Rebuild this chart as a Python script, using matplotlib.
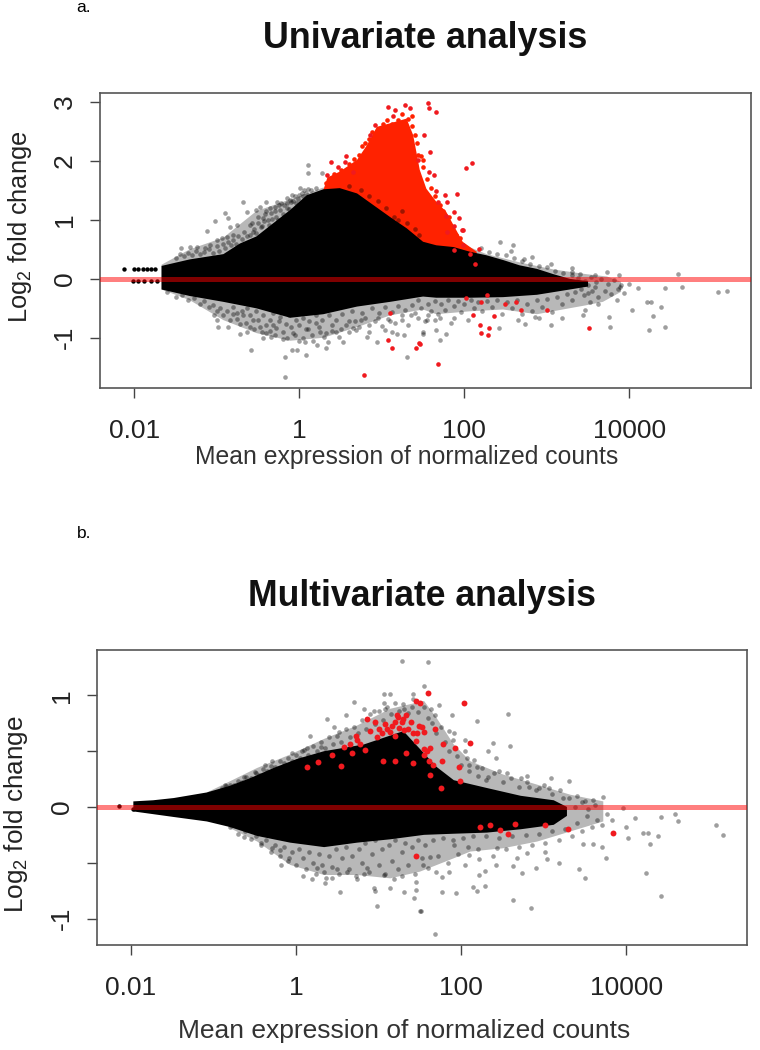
import numpy as np
import matplotlib
matplotlib.use('Agg')
import matplotlib.pyplot as plt
from matplotlib.ticker import FixedLocator, FixedFormatter, NullLocator

plt.rcParams['font.family'] = ['Liberation Sans', 'DejaVu Sans']
plt.rcParams['mathtext.default'] = 'regular'

# all means are log10 of the mean expression

# panel a, edges of the solid black mass
a_top_m = [-1.67, -1.33, -0.92, -0.72, -0.52, -0.32, -0.11, 0.09, 0.29, 0.49, 0.70, 0.90, 1.10, 1.30, 1.50, 1.66, 1.87, 2.07, 2.27, 2.47, 2.67, 2.88, 3.08, 3.28, 3.5]
a_top_v = [0.22, 0.33, 0.42, 0.6, 0.72, 0.94, 1.17, 1.42, 1.52, 1.54, 1.45, 1.25, 1.05, 0.86, 0.63, 0.57, 0.54, 0.46, 0.4, 0.32, 0.23, 0.17, 0.08, 0.0, -0.04]
a_low_m = [-1.67, -1.33, -0.92, -0.52, -0.11, 0.29, 0.70, 1.10, 1.50, 1.66, 2.07, 2.47, 2.88, 3.28, 3.5]
a_low_v = [-0.18, -0.29, -0.39, -0.5, -0.66, -0.6, -0.47, -0.39, -0.3, -0.32, -0.32, -0.31, -0.27, -0.18, -0.13]

# panel a, outer edge of the thin cloud
a_fuzz_top_m = [-1.67, -1.33, -0.92, -0.52, -0.11, 0.29, 2.27, 2.67, 3.08, 3.48, 3.73, 3.9]
a_fuzz_top_v = [0.24, 0.5, 0.7, 1.15, 1.35, 1.55, 0.42, 0.28, 0.16, 0.08, 0.04, -0.05]
a_fuzz_low_m = [3.9, 3.68, 3.47, 3.27, 2.88, 2.47, 2.07, 1.66, 1.5, 1.1, 0.7, 0.29, -0.11, -0.52, -0.92, -1.33, -1.67]
a_fuzz_low_v = [-0.22, -0.39, -0.45, -0.5, -0.6, -0.52, -0.55, -0.6, -0.52, -0.62, -0.82, -1.0, -1.05, -0.92, -0.7, -0.36, -0.18]

# panel a, red cloud outline
a_red_m = [0.29, 0.34, 0.49, 0.70, 0.82, 0.94, 1.10, 1.30, 1.38, 1.46, 1.54, 1.66, 1.78, 1.87, 1.98, 2.15, 2.15, 1.66, 1.30, 0.70, 0.29]
a_red_v = [1.5, 1.72, 1.82, 2.02, 2.27, 2.58, 2.64, 2.72, 2.44, 1.85, 1.53, 1.31, 1.14, 0.91, 0.63, 0.46, 0.3, 0.4, 0.7, 1.3, 1.4]

a_grey = np.array([
    (0.11, 1.93), (0.11, 1.79), (0.28, 1.79), (0.01, 1.54), (-0.09, 1.42), (-0.15, 1.37), (-0.68, 1.31), (-0.64, 1.14),
    (-0.90, 1.11), (-0.86, 1.03), (-1.02, 0.98), (-1.12, 0.81), (-0.84, 0.88), (-0.76, 0.91), (-0.40, 1.31), (-0.27, 1.31),
    (-0.52, 1.17), (-0.48, 1.22), (-0.60, 0.91), (-0.56, 0.80), (-0.44, 1.03), (-0.34, 1.11), (-0.23, 1.17), (-0.11, 1.34),
    (-0.94, 0.69), (-0.88, 0.71), (-0.80, 0.74), (-1.00, 0.66), (-1.08, 0.57), (-1.14, 0.52), (-1.33, 0.54), (-1.43, 0.53),
    (-1.24, 0.54), (-0.6, 0.75), (-0.55, 0.85), (-0.5, 0.95), (-0.45, 0.9), (-0.42, 1.1), (-0.38, 1.0), (-0.35, 1.2),
    (-0.3, 1.15), (-0.28, 1.05), (-0.25, 1.25), (-0.2, 1.1), (-0.18, 1.25), (-0.15, 1.2), (-0.1, 1.3), (-0.05, 1.4),
    (-0.02, 1.35), (0.03, 1.45), (0.06, 1.5), (0.1, 1.52),
    (-1.00, -0.70), (-1.04, -0.62), (-0.86, -0.82), (-0.98, -0.82), (-0.72, -0.93), (-0.64, -0.90), (-0.59, -1.20), (-0.44, -1.01),
    (-0.34, -0.99), (-0.32, -0.79), (-0.17, -1.33), (-0.17, -1.67), (-0.09, -1.21), (-0.03, -1.21), (0.08, -1.30), (0.07, -1.07),
    (0.21, -1.13), (0.32, -1.18), (0.35, -1.07), (0.53, -1.07), (0.45, -0.90), (0.65, -0.84), (0.69, -0.87), (0.94, -1.07),
    (0.82, -0.99), (1.18, -0.93), (1.30, -1.33), (1.50, -0.93), (1.27, -0.96), (1.04, -0.87), (1.12, -0.90), (1.44, -0.67),
    (1.56, -0.62), (-0.8, -0.6), (-0.75, -0.68), (-0.7, -0.55), (-0.65, -0.75), (-0.6, -0.62), (-0.55, -0.85), (-0.5, -0.7),
    (-0.45, -0.9), (-0.4, -0.78), (-0.35, -0.88), (-0.3, -0.95), (-0.25, -0.72), (-0.2, -0.9), (-0.15, -1.0), (-0.1, -0.82),
    (-0.05, -0.95), (0.0, -0.78), (0.05, -1.0), (0.1, -0.85), (0.15, -0.95), (0.2, -0.75), (0.25, -0.9), (0.3, -0.98),
    (0.4, -0.78), (0.5, -0.85), (0.6, -0.72), (0.75, -0.7), (0.85, -0.78), (0.95, -0.66), (1.1, -0.72), (1.25, -0.7),
    (1.35, -0.62), (1.65, -0.7),
    (4.59, 0.09), (4.64, -0.14), (5.08, -0.22), (5.18, -0.20), (4.43, -0.15), (4.11, -0.16), (4.21, -0.39), (4.26, -0.39),
    (4.39, -0.48), (4.29, -0.63), (4.43, -0.82), (4.24, -0.87), (4.03, -0.52), (3.75, -0.65), (3.76, -0.82), (3.44, -0.62),
    (3.46, -0.52), (3.18, -0.67), (3.05, -0.79), (2.90, -0.67), (2.86, -0.65), (2.65, -0.70), (2.74, -0.77), (2.42, -0.84),
    (1.78, -0.93), (1.71, -1.04), (1.66, -0.87), (1.50, -0.90), (1.71, -0.67), (1.87, -0.67), (1.55, -0.70),
    (2.43, 0.62), (2.59, 0.58), (2.56, 0.48), (2.82, 0.37), (2.72, 0.33), (3.05, 0.26), (3.31, 0.19), (3.73, 0.12),
    (3.87, 0.06), (3.58, 0.06), (4.0, -0.08), (3.89, -0.14), (3.85, -0.36), (3.62, -0.42), (3.52, -0.39),
    # denser part of the cloud next to the mass
    (-1.5, 0.36), (-1.45, 0.42), (-1.4, 0.38), (-1.35, 0.44), (-1.3, 0.4), (-1.25, 0.47), (-1.2, 0.42), (-1.15, 0.46),
    (-1.1, 0.5), (-1.05, 0.44), (-1.0, 0.55), (-0.97, 0.48), (-0.93, 0.6), (-0.9, 0.52), (-0.87, 0.63), (-0.83, 0.58),
    (-0.8, 0.66), (-0.77, 0.6), (-0.74, 0.72), (-0.7, 0.68), (-0.67, 0.8), (-0.63, 0.72), (-0.57, 0.95), (-0.53, 0.78),
    (-0.5, 1.05), (-0.47, 0.88), (-0.43, 0.98), (-0.4, 1.15), (-0.37, 0.92), (-0.33, 1.02), (-0.29, 1.22), (-0.26, 1.0),
    (-0.22, 1.28), (-0.19, 1.05), (-0.15, 1.28), (-0.12, 1.18), (-0.08, 1.32), (-0.04, 1.28), (0.0, 1.42), (0.04, 1.4),
    (0.08, 1.46), (0.14, 1.5), (0.2, 1.55),
    (-1.6, -0.22), (-1.5, -0.3), (-1.42, -0.28), (-1.35, -0.36), (-1.28, -0.33), (-1.2, -0.42), (-1.15, -0.38), (-1.1, -0.48),
    (-1.05, -0.44), (-1.0, -0.55), (-0.96, -0.5), (-0.92, -0.62), (-0.88, -0.55), (-0.84, -0.7), (-0.8, -0.48), (-0.76, -0.58),
    (-0.72, -0.76), (-0.68, -0.62), (-0.64, -0.5), (-0.6, -0.82), (-0.56, -0.7), (-0.52, -0.55), (-0.48, -0.82), (-0.44, -0.62),
    (-0.4, -0.92), (-0.36, -0.7), (-0.32, -0.58), (-0.28, -0.84), (-0.24, -0.65), (-0.2, -1.02), (-0.16, -0.76), (-0.12, -0.62),
    (-0.08, -0.92), (-0.04, -0.7), (0.0, -1.05), (0.04, -0.66), (0.08, -0.85), (0.12, -0.72), (0.16, -1.05), (0.2, -0.62),
    (0.24, -0.82), (0.28, -0.7), (0.32, -0.92), (0.36, -0.62), (0.4, -0.88), (0.44, -0.7), (0.48, -0.98), (0.52, -0.6),
    (0.56, -0.78), (0.6, -0.9), (0.64, -0.55), (0.68, -0.72), (0.72, -0.82), (0.76, -0.58), (0.8, -0.66), (0.84, -0.9),
    (0.88, -0.5), (0.92, -0.72), (0.96, -0.58), (1.0, -0.8), (1.04, -0.48), (1.08, -0.68), (1.12, -0.56), (1.16, -0.75),
    (1.2, -0.46), (1.24, -0.62), (1.28, -0.52), (1.32, -0.78), (1.36, -0.44), (1.4, -0.58), (1.44, -0.36), (1.48, -0.5),
    (1.52, -0.72), (1.56, -0.42), (1.6, -0.55), (1.64, -0.38), (1.68, -0.6), (1.72, -0.42), (1.76, -0.52), (1.8, -0.36),
    (1.84, -0.75), (1.88, -0.46), (1.92, -0.38), (1.96, -0.56), (2.0, -0.42), (2.04, -0.7), (2.08, -0.36), (2.12, -0.5),
    (2.16, -0.4), (2.22, -0.55), (2.28, -0.38), (2.34, -0.48), (2.4, -0.36), (2.46, -0.6), (2.52, -0.4), (2.58, -0.5),
    (2.64, -0.36), (2.7, -0.6), (2.76, -0.42), (2.82, -0.55), (2.88, -0.36), (2.94, -0.48), (3.0, -0.34), (3.06, -0.56),
    (3.12, -0.3), (3.18, -0.42), (3.24, -0.26), (3.3, -0.36),
    (3.3, 0.06), (3.34, -0.22), (3.38, 0.02), (3.42, -0.18), (3.46, -0.04), (3.5, -0.24), (3.54, 0.04), (3.58, -0.14),
    (3.62, -0.3), (3.66, 0.0), (3.7, -0.2), (3.74, -0.08), (3.78, -0.26), (3.82, -0.02), (3.86, -0.18), (3.9, -0.1),
    (3.94, -0.24), (3.3, 0.12), (3.35, -0.1), (3.4, 0.08), (3.45, -0.28), (3.5, -0.1), (3.55, -0.2), (3.6, -0.06),
    (3.2, 0.1), (3.1, 0.14), (3.0, 0.2), (2.9, 0.22), (2.8, 0.26), (2.7, 0.3), (2.6, 0.36), (2.5, 0.4), (2.4, 0.42),
    (2.3, 0.46), (2.2, 0.52),
    # dark specks along the bottom of the red cloud
    (0.6, 1.58), (0.75, 1.5), (0.85, 1.4), (0.95, 1.32), (1.05, 1.2), (1.15, 1.05), (1.2, 1.0), (1.25, 1.15), (1.3, 0.95),
    (1.4, 0.85), (1.45, 0.75),
])

a_red = np.array([
    (1.07, 2.92), (1.28, 2.95), (1.34, 2.9), (1.16, 2.87), (1.14, 2.77), (0.92, 2.61), (0.86, 2.44), (0.57, 2.09),
    (0.39, 1.98), (0.47, 1.9), (0.55, 1.99), (0.34, 1.77), (0.65, 1.82), (1.44, 2.02),
    (1.56, 2.98), (1.57, 2.90), (1.66, 2.83), (1.51, 2.45), (1.58, 2.16), (2.09, 1.96), (2.02, 1.89), (1.57, 1.81),
    (1.63, 1.77), (1.91, 1.44), (1.77, 1.42), (1.66, 1.49), (1.79, 1.30), (1.68, 1.30), (1.87, 1.14), (1.78, 1.07),
    (1.94, 1.04), (1.97, 0.83), (1.99, 0.83), (1.87, 0.90), (1.79, 0.80), (2.18, 0.50), (2.07, 0.43), (2.13, 0.26),
    (1.98, 0.58), (1.87, 0.49),
    (2.02, -0.33), (2.20, -0.39), (2.27, -0.28), (2.49, -0.43), (2.63, -0.40), (2.69, -0.52), (3.0, -0.52), (2.10, -0.62),
    (2.36, -0.63), (2.19, -0.79), (2.30, -0.84), (2.20, -0.92), (2.29, -0.96), (3.51, -0.83), (1.68, -1.45), (1.46, -1.10),
    (1.10, -0.58), (1.08, -1.04), (1.12, -1.17), (1.42, -1.17), (1.45, -1.08), (0.78, -1.63),
])

# panel a, bright points that fray the edge of the red cloud
a_red_edge = np.array([
    (0.32, 1.62), (0.38, 1.7), (0.42, 1.78), (0.5, 1.85), (0.55, 1.78), (0.6, 1.95), (0.66, 2.03), (0.72, 2.1), (0.76, 2.25),
    (0.8, 2.3), (0.84, 2.38), (0.88, 2.5), (0.97, 2.55), (1.02, 2.62), (1.06, 2.7), (1.12, 2.62), (1.2, 2.7), (1.25, 2.8),
    (1.32, 2.72), (1.37, 2.6), (1.4, 2.45), (1.43, 2.3), (1.44, 2.1), (1.5, 1.9), (1.55, 1.7), (1.6, 1.55), (1.64, 1.4),
    (1.7, 1.25), (1.74, 1.15), (1.82, 1.05), (1.85, 0.85), (1.9, 0.75), (1.95, 0.7), (2.0, 0.55), (2.04, 0.5), (1.72, 1.0),
    (1.6, 1.1), (1.5, 2.02), (1.47, 2.08), (1.36, 2.76),
])

# panel a, the few low count genes left of the mass
a_low_counts = np.array([(-2.13, 0.17), (-2.0, 0.17), (-1.95, 0.17), (-1.9, 0.17), (-1.85, 0.17), (-1.8, 0.17), (-1.75, 0.17),
                         (-2.02, -0.04), (-1.95, -0.04), (-1.88, -0.04), (-1.8, -0.04), (-1.72, -0.04)])

# panel b, edges of the solid black mass
b_top_m = [-1.97, -1.73, -1.48, -1.08, -0.8, -0.55, -0.27, 0.01, 0.34, 0.58, 0.82, 1.14, 1.3, 1.5, 1.7, 1.91, 2.31, 2.72, 3.12, 3.28]
b_top_v = [0.05, 0.06, 0.08, 0.13, 0.19, 0.26, 0.35, 0.43, 0.5, 0.53, 0.56, 0.64, 0.68, 0.52, 0.36, 0.24, 0.17, 0.1, 0.06, 0.0]
b_low_m = [-1.97, -1.48, -1.08, -0.8, -0.47, -0.07, 0.34, 0.74, 1.14, 1.55, 1.91, 2.31, 2.72, 3.12, 3.28]
b_low_v = [-0.04, -0.09, -0.13, -0.18, -0.26, -0.32, -0.36, -0.32, -0.29, -0.25, -0.24, -0.23, -0.2, -0.16, -0.08]

b_fuzz_top_m = [-1.08, -0.8, -0.47, -0.07, 0.34, 0.74, 1.14, 1.55, 1.7, 1.91, 2.11, 2.51, 2.92, 3.32, 3.72]
b_fuzz_top_v = [0.13, 0.23, 0.35, 0.47, 0.61, 0.73, 0.88, 0.95, 0.8, 0.56, 0.41, 0.29, 0.2, 0.11, 0.05]
b_fuzz_low_m = [3.72, 3.32, 2.92, 2.51, 2.11, 1.91, 1.5, 1.14, 0.74, 0.34, -0.07, -0.47, -0.8]
b_fuzz_low_v = [-0.13, -0.22, -0.31, -0.37, -0.4, -0.46, -0.58, -0.64, -0.61, -0.61, -0.52, -0.31, -0.19]

b_grey = np.array([
    (1.28, 1.31), (1.60, 1.30), (1.55, 1.08), (1.07, 1.01), (1.14, 1.01), (1.42, 1.01), (0.70, 0.94), (0.82, 0.88),
    (0.94, 0.86), (0.60, 0.82), (0.37, 0.79), (0.17, 0.64), (0.46, 0.72), (0.52, 0.67), (-0.05, 0.48), (0.07, 0.50),
    (-0.29, 0.41), (-0.37, 0.38), (-0.49, 0.30), (-0.63, 0.27), (-0.86, 0.20), (-0.15, 0.39), (0.13, 0.53), (0.30, 0.54),
    (1.06, 0.93), (1.08, 0.88), (1.41, 0.97), (1.31, 0.88),
    (-0.18, -0.52), (-0.09, -0.46), (0.08, -0.62), (0.19, -0.65), (0.35, -0.68), (0.44, -0.64), (0.53, -0.76), (0.74, -0.65),
    (0.82, -0.60), (0.94, -0.73), (0.96, -0.75), (0.98, -0.89), (1.14, -0.73), (1.18, -0.65), (1.31, -0.76), (1.45, -0.74),
    (1.43, -0.82), (1.51, -0.93), (1.28, -0.62), (1.45, -0.67), (1.06, -0.61), (0.34, -0.58), (0.25, -0.55), (0.50, -0.56),
    (0.62, -0.58), (0.86, -0.55), (-0.43, -0.32), (-0.63, -0.27), (-0.29, -0.37), (-0.19, -0.39),
    (1.73, 0.91), (1.64, 0.88), (1.68, 0.82), (1.89, 0.82), (2.57, 0.83), (2.19, 0.77), (1.85, 0.68), (1.91, 0.66),
    (2.39, 0.57), (2.59, 0.55), (2.33, 0.50), (2.04, 0.60), (2.42, 0.44), (2.07, 0.44), (2.10, 0.38), (2.19, 0.36),
    (2.46, 0.32), (2.56, 0.30), (2.33, 0.27), (2.72, 0.26), (2.80, 0.28), (3.09, 0.26), (3.30, 0.23), (3.06, 0.17),
    (2.94, 0.17), (2.82, 0.18), (3.23, 0.08), (3.60, 0.06), (3.72, 0.09), (3.96, -0.01), (4.42, -0.09), (4.59, -0.06),
    (4.63, -0.13), (4.10, -0.10), (4.0, -0.18), (5.08, -0.16), (5.17, -0.25), (4.2, -0.23), (4.26, -0.23), (4.38, -0.26),
    (4.02, -0.28), (4.29, -0.33), (4.24, -0.59), (4.42, -0.80),
    (3.5, -0.64), (3.43, -0.56), (3.75, -0.46), (3.71, -0.36), (3.48, -0.33), (3.60, -0.33), (3.18, -0.50), (3.04, -0.47),
    (2.90, -0.55), (2.73, -0.59), (2.63, -0.53), (2.42, -0.52), (2.63, -0.83), (2.84, -0.91), (2.29, -0.71), (2.19, -0.75),
    (2.14, -0.72), (2.29, -0.57), (2.21, -0.61), (1.94, -0.77), (1.77, -0.76), (1.68, -1.14), (1.50, -0.93), (1.70, -0.58),
    (1.85, -0.58), (1.77, -0.63), (1.62, -0.45), (1.54, -0.52), (2.05, -0.52), (2.09, -0.43), (2.21, -0.47), (2.67, -0.46),
    (2.80, -0.41), (3.02, -0.40), (2.43, -0.37), (1.91, -0.34),
    # denser part of the cloud next to the mass
    (-0.9, 0.17), (-0.85, 0.19), (-0.8, 0.2), (-0.75, 0.2), (-0.7, 0.23), (-0.65, 0.22), (-0.6, 0.27), (-0.55, 0.26),
    (-0.5, 0.31), (-0.45, 0.29), (-0.4, 0.34), (-0.35, 0.32), (-0.3, 0.37), (-0.25, 0.36), (-0.2, 0.41), (-0.15, 0.37),
    (-0.1, 0.44), (-0.05, 0.41), (0.0, 0.47), (0.05, 0.44), (0.1, 0.51), (0.15, 0.47), (0.2, 0.55), (0.25, 0.5),
    (0.3, 0.58), (0.35, 0.53), (0.4, 0.63), (0.45, 0.56), (0.5, 0.64), (0.55, 0.58), (0.6, 0.7), (0.65, 0.63),
    (0.7, 0.72), (0.75, 0.66), (0.8, 0.78), (0.85, 0.7), (0.9, 0.83), (0.95, 0.74), (1.0, 0.86), (1.05, 0.78),
    (1.1, 0.9), (1.15, 0.83), (1.2, 0.93), (1.25, 0.86), (1.3, 0.92), (1.35, 0.84), (1.4, 0.9), (1.48, 0.85),
    (1.55, 0.9), (1.6, 0.8), (1.65, 0.75), (1.7, 0.66), (1.75, 0.72), (1.8, 0.58), (1.85, 0.5), (1.9, 0.6),
    (1.95, 0.46), (2.0, 0.38), (2.05, 0.5), (2.1, 0.32), (2.15, 0.42), (2.2, 0.28), (2.25, 0.35), (2.3, 0.24),
    (2.4, 0.3), (2.5, 0.22), (2.6, 0.26), (2.7, 0.18), (2.8, 0.22), (2.9, 0.15), (3.0, 0.2), (3.1, 0.12),
    (3.2, 0.15), (3.3, 0.08), (3.4, 0.1), (3.5, 0.05),
    (-0.8, -0.18), (-0.7, -0.24), (-0.62, -0.22), (-0.55, -0.29), (-0.48, -0.26), (-0.42, -0.34), (-0.36, -0.3), (-0.3, -0.4),
    (-0.25, -0.34), (-0.2, -0.44), (-0.15, -0.36), (-0.1, -0.48), (-0.05, -0.4), (0.0, -0.52), (0.04, -0.38), (0.08, -0.46),
    (0.12, -0.56), (0.16, -0.4), (0.2, -0.5), (0.24, -0.6), (0.28, -0.42), (0.32, -0.52), (0.36, -0.64), (0.4, -0.44),
    (0.44, -0.54), (0.48, -0.38), (0.52, -0.6), (0.56, -0.46), (0.6, -0.36), (0.64, -0.56), (0.68, -0.44), (0.72, -0.62),
    (0.76, -0.38), (0.8, -0.5), (0.84, -0.32), (0.88, -0.58), (0.92, -0.42), (0.96, -0.3), (1.0, -0.52), (1.04, -0.38),
    (1.08, -0.6), (1.12, -0.34), (1.16, -0.48), (1.2, -0.3), (1.24, -0.56), (1.28, -0.4), (1.32, -0.32), (1.36, -0.52),
    (1.4, -0.36), (1.44, -0.6), (1.48, -0.3), (1.52, -0.46), (1.56, -0.34), (1.6, -0.55), (1.66, -0.3), (1.72, -0.44),
    (1.78, -0.28), (1.84, -0.5), (1.9, -0.3), (1.96, -0.42), (2.02, -0.28), (2.08, -0.36), (2.14, -0.26), (2.2, -0.38),
    (2.3, -0.26), (2.38, -0.44), (2.46, -0.28), (2.54, -0.38), (2.62, -0.26), (2.7, -0.36), (2.78, -0.25), (2.86, -0.34),
    (2.94, -0.24), (3.02, -0.32), (3.1, -0.22), (3.18, -0.3), (3.26, -0.2), (3.34, -0.26), (3.4, -0.14), (3.46, -0.22),
    (3.52, -0.08), (3.58, -0.18), (3.64, -0.12), (3.7, -0.16), (3.76, -0.06), (3.82, -0.12), (3.38, 0.0), (3.46, 0.04),
    (3.54, -0.02), (3.62, 0.02),
])

b_red = np.array([
    (0.13, 0.36), (0.27, 0.40), (0.44, 0.47), (0.55, 0.37), (0.58, 0.54), (0.68, 0.48), (0.72, 0.64), (0.78, 0.56),
    (0.84, 0.51), (0.86, 0.79), (0.96, 0.76), (0.98, 0.63), (1.04, 0.66), (1.05, 0.41), (1.10, 0.70), (1.16, 0.73),
    (1.24, 0.81), (1.28, 0.76), (1.31, 0.69), (1.20, 0.64), (1.39, 0.76), (1.49, 0.73), (1.55, 0.67), (1.20, 0.41),
    (1.41, 0.39), (1.33, 0.48), (1.45, 0.59), (1.45, 0.95), (1.50, 0.93), (1.45, -0.44), (1.59, 0.50), (1.61, 0.41),
    (1.55, 0.52), (1.0, 0.70), (1.08, 0.74), (1.14, 0.67), (1.2, 0.76), (1.25, 0.71), (1.3, 0.79), (1.36, 0.7),
    (1.42, 0.66), (1.47, 0.66), (0.74, 0.6), (0.65, 0.56), (0.9, 0.68), (1.22, 0.82), (1.33, 0.82),
    (1.60, 1.02), (2.03, 0.93), (1.68, 0.70), (1.52, 0.72), (1.78, 0.56), (2.11, 0.57), (1.92, 0.53), (1.62, 0.53),
    (1.55, 0.47), (1.77, 0.41), (1.97, 0.36), (1.66, 0.38), (1.75, 0.17), (1.99, 0.23), (1.62, 0.29),
    (2.23, -0.18), (2.35, -0.16), (2.47, -0.21), (2.57, -0.24), (2.65, -0.15), (3.02, -0.16), (3.29, -0.20), (3.84, -0.23),
])

b_low_counts = np.array([(-2.14, 0.01), (-1.97, -0.02), (-1.9, 0.03), (-1.82, -0.03), (-1.75, 0.03)])

xtick_m = [0.01, 1, 100, 10000]
xtick_labels = ['0.01', '1', '100', '10000']


def ma_panel(box, xlim, ylim, yticks, ylabels, top, low, fuzz, red_poly, grey, red, low_counts, red_size, red_edge=None):
    # box is left, top, right, bottom in pixels of the 760x1050 figure
    ax = fig.add_axes([box[0] / 760, 1 - box[3] / 1050, (box[2] - box[0]) / 760, (box[3] - box[1]) / 1050])
    ax.set_xscale('log')
    ax.set_xlim(10.0 ** xlim[0], 10.0 ** xlim[1])
    ax.set_ylim(ylim)

    # thin cloud, then red, then solid black
    fx = np.r_[fuzz[0], fuzz[2]]
    fy = np.r_[fuzz[1], fuzz[3]]
    ax.fill(10.0 ** fx, fy, color='black', alpha=0.28, lw=0, zorder=1)
    if red_poly is not None:
        ax.fill(10.0 ** np.array(red_poly[0]), red_poly[1], color='#ff2200', lw=0, zorder=2)
    if red_edge is not None:
        ax.scatter(10.0 ** red_edge[:, 0], red_edge[:, 1], s=11, color='#ff2200', lw=0, zorder=2)
    mx = np.r_[top[0], low[0][::-1]]
    my = np.r_[top[1], low[1][::-1]]
    ax.fill(10.0 ** mx, my, color='black', lw=0, zorder=3)

    ax.scatter(10.0 ** grey[:, 0], grey[:, 1], s=11, color='black', alpha=0.38, lw=0, zorder=2.5)
    ax.scatter(10.0 ** low_counts[:, 0], low_counts[:, 1], s=10, color='black', lw=0, zorder=3)
    ax.scatter(10.0 ** red[:, 0], red[:, 1], s=red_size, color='#f01a1f', lw=0, zorder=4)
    ax.axhline(0, color='#ff0000', alpha=0.5, lw=3.6, zorder=5)

    ax.xaxis.set_major_locator(FixedLocator(xtick_m))
    ax.xaxis.set_major_formatter(FixedFormatter(xtick_labels))
    ax.xaxis.set_minor_locator(NullLocator())
    ax.set_yticks(yticks)
    ax.set_yticklabels(ylabels, rotation=90, va='center')
    ax.tick_params(axis='both', length=7.5, width=1, color='#444444', labelsize=19, labelcolor='#222222')
    ax.tick_params(axis='x', pad=15)
    ax.tick_params(axis='y', pad=9)
    for s in ax.spines.values():
        s.set_color('#555555')
        s.set_linewidth(1.2)
    return ax


fig = plt.figure(figsize=(7.6, 10.5), dpi=100, facecolor='white')

ma_panel((100, 92.5, 751, 388), (-2.416, 5.475), (-1.852, 3.163), [-1, 0, 1, 2, 3], ['-1', '0', '1', '2', '3'],
         (a_top_m, a_top_v), (a_low_m, a_low_v),
         (a_fuzz_top_m, a_fuzz_top_v, a_fuzz_low_m, a_fuzz_low_v),
         (a_red_m, a_red_v), a_grey, a_red, a_low_counts, 11, a_red_edge)
ma_panel((97, 650, 747, 944.5), (-2.41, 5.46), (-1.233, 1.407), [-1, -0.5, 0, 0.5, 1], ['-1', '', '0', '', '1'],
         (b_top_m, b_top_v), (b_low_m, b_low_v),
         (b_fuzz_top_m, b_fuzz_top_v, b_fuzz_low_m, b_fuzz_low_v),
         None, b_grey, b_red, b_low_counts, 18)

# titles, axis labels and panel letters
fig.text(425 / 760, 1 - 38 / 1050, 'Univariate analysis', fontsize=25.8, fontweight='bold', ha='center', va='center', color='#111111')
fig.text(421.5 / 760, 1 - 597 / 1050, 'Multivariate analysis', fontsize=25.7, fontweight='bold', ha='center', va='center', color='#111111')
fig.text(407 / 760, 1 - 457 / 1050, 'Mean expression of normalized counts', fontsize=17.85, ha='center', va='center', color='#333333')
fig.text(404 / 760, 1 - 1031 / 1050, 'Mean expression of normalized counts', fontsize=19, ha='center', va='center', color='#333333')
fig.text(20 / 760, 1 - 227 / 1050, 'Log$_2$ fold change', fontsize=18.3, rotation=90, ha='center', va='center', color='#222222')
fig.text(16 / 760, 1 - 814 / 1050, 'Log$_2$ fold change', fontsize=18.8, rotation=90, ha='center', va='center', color='#222222')
fig.text(76 / 760, 1 - 7 / 1050, 'a.', fontsize=12.5, ha='left', va='center', color='black')
fig.text(77 / 760, 1 - 533 / 1050, 'b.', fontsize=12.5, ha='left', va='center', color='black')

fig.savefig('out.png', dpi=100)
